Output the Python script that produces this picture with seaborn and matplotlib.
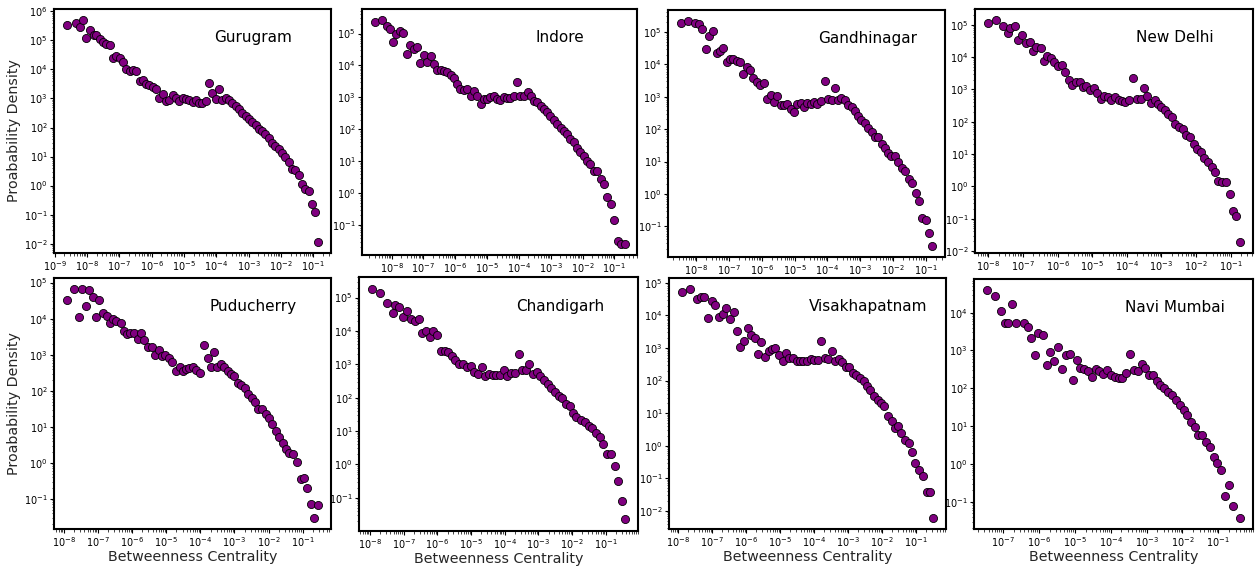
import numpy as np
import pandas as pd
import matplotlib
matplotlib.use("Agg")
import matplotlib.pyplot as plt
import seaborn as sns

# ---- data (log10 of betweenness centrality, log10 of probability density) ----
cities = ["Gurugram", "Indore", "Gandhinagar", "New Delhi",
          "Puducherry", "Chandigarh", "Visakhapatnam", "Navi Mumbai"]

gurugram_lx = [-8.63, -8.35, -8.22, -8.11, -8.02, -7.91, -7.79, -7.71, -7.61, -7.50, -7.40, -7.30, -7.19, -7.09, -6.99,
               -6.89, -6.78, -6.68, -6.58, -6.48, -6.37, -6.27, -6.17, -6.07, -5.96, -5.86, -5.76, -5.66, -5.55, -5.45,
               -5.35, -5.25, -5.14, -5.04, -4.94, -4.84, -4.73, -4.63, -4.53, -4.43, -4.32, -4.22, -4.12, -4.02, -3.91,
               -3.81, -3.71, -3.61, -3.50, -3.40, -3.30, -3.19, -3.09, -2.99, -2.89, -2.78, -2.68, -2.58, -2.48, -2.37,
               -2.27, -2.17, -2.07, -1.96, -1.86, -1.76, -1.66, -1.55, -1.45, -1.35, -1.25, -1.14, -1.04, -0.94, -0.84]
gurugram_ly = [5.53, 5.59, 5.47, 5.70, 5.10, 5.37, 5.18, 5.18, 5.05, 4.95, 4.86, 4.85, 4.38, 4.47, 4.41,
               4.27, 4.00, 3.93, 3.97, 3.96, 3.59, 3.65, 3.51, 3.46, 3.41, 3.32, 3.02, 3.15, 2.91, 2.95,
               3.12, 3.00, 2.93, 3.03, 2.97, 2.94, 2.89, 2.95, 2.86, 2.86, 2.93, 3.54, 3.18, 2.98, 3.34,
               2.95, 3.01, 2.96, 2.84, 2.74, 2.65, 2.49, 2.41, 2.31, 2.19, 2.08, 1.96, 1.88, 1.77, 1.64,
               1.48, 1.36, 1.25, 1.11, 0.97, 0.81, 0.58, 0.53, 0.35, 0.04, -0.13, -0.19, -0.62, -0.90, -1.94]

indore_lx = [-8.54, -8.30, -8.16, -8.04, -7.95, -7.85, -7.74, -7.64, -7.52, -7.42, -7.31, -7.19, -7.11, -6.98, -6.88,
             -6.77, -6.67, -6.56, -6.46, -6.36, -6.25, -6.15, -6.04, -5.94, -5.84, -5.73, -5.63, -5.52, -5.42, -5.32,
             -5.19, -5.11, -5.00, -4.90, -4.79, -4.69, -4.59, -4.48, -4.38, -4.27, -4.15, -4.05, -3.96, -3.84, -3.71,
             -3.61, -3.53, -3.42, -3.32, -3.21, -3.11, -3.01, -2.90, -2.80, -2.69, -2.59, -2.48, -2.38, -2.28, -2.17,
             -2.07, -1.96, -1.86, -1.76, -1.65, -1.53, -1.42, -1.32, -1.22, -1.11, -1.01, -0.88, -0.78, -0.68]
indore_ly = [5.36, 5.42, 5.25, 5.13, 4.75, 4.98, 5.08, 5.02, 4.37, 4.64, 4.53, 4.58, 4.09, 4.34, 4.11,
             4.29, 4.06, 3.86, 3.86, 3.84, 3.81, 3.71, 3.61, 3.43, 3.26, 3.24, 3.26, 3.04, 3.21, 3.05,
             2.78, 2.95, 2.95, 3.00, 3.05, 2.95, 2.91, 3.00, 2.97, 2.97, 3.04, 3.49, 3.03, 3.03, 3.18,
             3.03, 2.88, 2.86, 2.74, 2.63, 2.53, 2.42, 2.30, 2.17, 2.05, 1.94, 1.84, 1.69, 1.59, 1.42,
             1.29, 1.15, 1.02, 0.92, 0.69, 0.69, 0.45, 0.28, -0.13, -0.35, -0.84, -1.49, -1.59, -1.59]

gandhinagar_lx = [-8.47, -8.23, -8.03, -7.90, -7.81, -7.70, -7.59, -7.49, -7.37, -7.27, -7.17, -7.07, -6.96, -6.86,
                  -6.76, -6.66, -6.56, -6.46, -6.35, -6.25, -6.15, -6.05, -5.93, -5.83, -5.72, -5.62, -5.52, -5.42,
                  -5.32, -5.22, -5.11, -5.01, -4.91, -4.81, -4.71, -4.61, -4.50, -4.40, -4.30, -4.18, -4.08, -3.98,
                  -3.87, -3.77, -3.67, -3.57, -3.47, -3.37, -3.26, -3.16, -3.06, -2.96, -2.86, -2.76, -2.65, -2.55,
                  -2.45, -2.35, -2.25, -2.15, -2.05, -1.94, -1.84, -1.74, -1.62, -1.52, -1.42, -1.31, -1.21, -1.11,
                  -1.01, -0.91, -0.80]
gandhinagar_ly = [5.26, 5.33, 5.29, 5.23, 5.10, 4.48, 4.88, 5.03, 4.36, 4.41, 4.50, 4.07, 4.15, 4.17,
                  4.11, 4.07, 3.69, 3.92, 3.83, 3.59, 3.46, 3.36, 3.42, 2.92, 3.04, 2.85, 3.01, 2.74,
                  2.76, 2.78, 2.61, 2.53, 2.78, 2.80, 2.69, 2.82, 2.78, 2.84, 2.78, 2.86, 3.49, 2.94,
                  2.90, 3.28, 2.90, 2.96, 2.90, 2.74, 2.69, 2.57, 2.40, 2.28, 2.20, 2.05, 1.91, 1.76,
                  1.76, 1.55, 1.41, 1.26, 1.16, 1.16, 0.97, 0.79, 0.70, 0.47, 0.33, 0.02, -0.23, -0.73,
                  -0.82, -1.21, -1.60]

newdelhi_lx = [-8.02, -7.78, -7.57, -7.42, -7.36, -7.22, -7.13, -7.03, -6.92, -6.80, -6.71, -6.61, -6.49, -6.40,
               -6.30, -6.19, -6.09, -5.99, -5.88, -5.79, -5.67, -5.58, -5.48, -5.36, -5.26, -5.17, -5.05, -4.96,
               -4.85, -4.75, -4.65, -4.54, -4.45, -4.35, -4.23, -4.14, -4.04, -3.93, -3.83, -3.71, -3.60, -3.50,
               -3.41, -3.31, -3.20, -3.10, -3.00, -2.91, -2.81, -2.70, -2.60, -2.49, -2.39, -2.28, -2.18, -2.07,
               -1.97, -1.86, -1.76, -1.66, -1.55, -1.45, -1.36, -1.26, -1.14, -1.03, -0.93, -0.84, -0.72]
newdelhi_ly = [5.06, 5.14, 4.96, 4.75, 4.88, 4.96, 4.53, 4.67, 4.43, 4.47, 4.18, 4.30, 4.28, 3.89,
               4.04, 3.98, 3.85, 3.71, 3.75, 3.55, 3.28, 3.12, 3.24, 3.22, 3.06, 3.09, 2.99, 3.03,
               2.87, 2.70, 2.79, 2.75, 2.68, 2.75, 2.66, 2.64, 2.62, 2.68, 3.34, 2.70, 2.70, 3.03,
               2.79, 2.58, 2.66, 2.54, 2.44, 2.36, 2.23, 2.13, 1.93, 1.84, 1.76, 1.60, 1.52, 1.31,
               1.15, 1.07, 0.86, 0.74, 0.61, 0.45, 0.16, 0.14, 0.12, -0.23, -0.76, -0.92, -1.72]

puducherry_lx = [-7.92, -7.71, -7.56, -7.46, -7.36, -7.26, -7.15, -7.05, -6.97, -6.85, -6.75, -6.66, -6.56, -6.46,
                 -6.34, -6.24, -6.15, -6.05, -5.93, -5.83, -5.73, -5.64, -5.52, -5.42, -5.32, -5.22, -5.12, -5.03,
                 -4.93, -4.83, -4.71, -4.61, -4.52, -4.42, -4.32, -4.22, -4.12, -4.01, -3.89, -3.79, -3.69, -3.59,
                 -3.50, -3.40, -3.30, -3.20, -3.10, -3.00, -2.91, -2.81, -2.69, -2.59, -2.49, -2.40, -2.30, -2.18,
                 -2.08, -1.98, -1.89, -1.79, -1.69, -1.59, -1.49, -1.40, -1.28, -1.16, -1.06, -0.96, -0.87, -0.75,
                 -0.67, -0.54]
puducherry_ly = [4.51, 4.81, 4.04, 4.81, 4.35, 4.78, 4.59, 4.04, 4.52, 4.15, 4.06, 3.89, 3.98, 3.94,
                 3.89, 3.67, 3.57, 3.61, 3.61, 3.43, 3.61, 3.40, 3.20, 3.20, 3.00, 3.13, 2.96, 3.00,
                 2.91, 2.81, 2.54, 2.65, 2.56, 2.61, 2.63, 2.65, 2.57, 2.50, 3.26, 2.91, 2.65, 3.07,
                 2.65, 2.74, 2.67, 2.54, 2.46, 2.41, 2.22, 2.17, 2.07, 1.91, 1.81, 1.69, 1.50, 1.48,
                 1.35, 1.24, 1.09, 0.89, 0.72, 0.54, 0.37, 0.26, 0.24, 0.02, -0.44, -0.43, -0.69, -1.15,
                 -1.52, -1.17]

chandigarh_lx = [-7.95, -7.70, -7.49, -7.33, -7.25, -7.13, -7.01, -6.91, -6.79, -6.67, -6.56, -6.46, -6.34, -6.22,
                 -6.12, -6.00, -5.90, -5.78, -5.69, -5.57, -5.47, -5.37, -5.25, -5.13, -5.01, -4.91, -4.80, -4.68,
                 -4.58, -4.48, -4.36, -4.26, -4.14, -4.02, -3.92, -3.81, -3.69, -3.59, -3.49, -3.37, -3.27, -3.15,
                 -3.03, -2.94, -2.82, -2.72, -2.62, -2.52, -2.40, -2.30, -2.18, -2.07, -1.97, -1.87, -1.75, -1.63,
                 -1.51, -1.41, -1.29, -1.18, -1.08, -0.96, -0.84, -0.74, -0.64, -0.52, -0.42]
chandigarh_ly = [5.27, 5.15, 4.85, 4.55, 4.79, 4.73, 4.43, 4.59, 4.35, 4.29, 4.35, 3.95, 4.01, 3.83,
                 3.99, 3.87, 3.39, 3.41, 3.36, 3.24, 3.12, 3.00, 3.02, 2.92, 2.96, 2.78, 2.72, 2.92,
                 2.64, 2.72, 2.68, 2.68, 2.68, 2.82, 2.64, 2.74, 2.74, 3.32, 2.82, 2.82, 3.00, 2.72,
                 2.78, 2.64, 2.52, 2.40, 2.28, 2.18, 2.06, 1.98, 1.82, 1.74, 1.54, 1.42, 1.34, 1.26,
                 1.16, 1.10, 0.94, 0.82, 0.62, 0.31, 0.31, -0.06, -0.49, -1.10, -1.65]

visakhapatnam_lx = [-7.90, -7.66, -7.44, -7.34, -7.24, -7.12, -7.01, -6.92, -6.80, -6.68, -6.58, -6.49, -6.37, -6.27,
                    -6.17, -6.06, -5.96, -5.86, -5.74, -5.65, -5.55, -5.45, -5.33, -5.24, -5.14, -5.04, -4.92, -4.83,
                    -4.73, -4.61, -4.51, -4.42, -4.32, -4.20, -4.10, -3.99, -3.89, -3.79, -3.69, -3.58, -3.48, -3.38,
                    -3.26, -3.17, -3.07, -2.97, -2.85, -2.76, -2.64, -2.54, -2.44, -2.35, -2.23, -2.13, -2.03, -1.94,
                    -1.84, -1.72, -1.62, -1.53, -1.43, -1.33, -1.21, -1.12, -1.02, -0.90, -0.80, -0.69, -0.59, -0.49]
visakhapatnam_ly = [4.72, 4.80, 4.49, 4.56, 4.56, 3.93, 4.43, 4.33, 3.94, 4.03, 4.22, 3.90, 4.10, 3.53,
                    3.02, 3.22, 3.61, 3.39, 3.32, 2.81, 3.18, 2.71, 2.92, 2.96, 3.00, 2.77, 2.59, 2.85,
                    2.69, 2.69, 2.59, 2.59, 2.59, 2.61, 2.65, 2.63, 2.63, 3.22, 2.69, 2.65, 2.92, 2.61,
                    2.65, 2.57, 2.43, 2.41, 2.24, 2.16, 2.08, 2.00, 1.83, 1.71, 1.53, 1.40, 1.30, 1.22,
                    0.91, 0.75, 0.53, 0.59, 0.38, 0.16, 0.08, -0.19, -0.54, -0.76, -0.94, -1.41, -1.41, -2.21]

navimumbai_lx = [-7.45, -7.21, -7.06, -6.94, -6.85, -6.75, -6.63, -6.42, -6.31, -6.21, -6.10, -6.01, -5.89, -5.78,
                 -5.68, -5.57, -5.47, -5.36, -5.25, -5.14, -5.04, -4.94, -4.84, -4.73, -4.62, -4.51, -4.41, -4.31,
                 -4.20, -4.10, -3.99, -3.89, -3.78, -3.68, -3.56, -3.45, -3.36, -3.25, -3.14, -3.03, -2.93, -2.82,
                 -2.72, -2.62, -2.51, -2.40, -2.30, -2.19, -2.08, -1.97, -1.87, -1.76, -1.66, -1.56, -1.45, -1.35,
                 -1.24, -1.13, -1.03, -0.92, -0.81, -0.70, -0.59, -0.39]
navimumbai_ly = [4.59, 4.45, 4.05, 3.74, 3.74, 4.23, 3.74, 3.74, 3.62, 3.34, 2.88, 3.46, 3.41, 2.61,
                 2.97, 2.71, 3.08, 2.52, 2.89, 2.90, 2.21, 2.76, 2.55, 2.51, 2.45, 2.30, 2.51, 2.45,
                 2.38, 2.48, 2.34, 2.30, 2.28, 2.28, 2.41, 2.92, 2.48, 2.45, 2.65, 2.54, 2.36, 2.36,
                 2.19, 2.09, 2.02, 1.91, 1.82, 1.69, 1.57, 1.43, 1.30, 1.12, 0.99, 0.77, 0.77, 0.58,
                 0.45, 0.18, 0.02, -0.16, -0.86, -0.55, -1.11, -1.42]

series = {
    "Gurugram": (gurugram_lx, gurugram_ly),
    "Indore": (indore_lx, indore_ly),
    "Gandhinagar": (gandhinagar_lx, gandhinagar_ly),
    "New Delhi": (newdelhi_lx, newdelhi_ly),
    "Puducherry": (puducherry_lx, puducherry_ly),
    "Chandigarh": (chandigarh_lx, chandigarh_ly),
    "Visakhapatnam": (visakhapatnam_lx, visakhapatnam_ly),
    "Navi Mumbai": (navimumbai_lx, navimumbai_ly),
}

# ---- layout (pixel boxes of each panel: left, top, right, bottom) ----
W, H = 1257, 567
boxes = [(54, 9, 331, 253), (362, 9, 637, 255), (668, 10, 945, 257), (975, 9, 1253, 253),
         (54, 278, 331, 529), (359, 277, 638, 531), (669, 278, 946, 529), (974, 279, 1253, 529)]

sns.set_style("ticks")
plt.rcParams["font.family"] = ["DejaVu Sans"]

fig = plt.figure(figsize=(W / 100, H / 100), dpi=100)

for i, city in enumerate(cities):
    x0, y0, x1, y1 = boxes[i]
    ax = fig.add_axes([x0 / W, 1 - y1 / H, (x1 - x0) / W, (y1 - y0) / H])
    lx, ly = series[city]
    df = pd.DataFrame({"bc": 10 ** np.array(lx), "pd": 10 ** np.array(ly)})
    ax.set_xscale("log")
    ax.set_yscale("log")
    sns.scatterplot(data=df, x="bc", y="pd", ax=ax, color="#800080",
                    edgecolor="black", linewidth=0.6, s=34, zorder=3)
    ax.margins(0.05)
    ax.text(0.72, 0.885, city, transform=ax.transAxes, ha="center", va="center",
            fontsize=11, color="black")
    for sp in ax.spines.values():
        sp.set_linewidth(1.5)
        sp.set_color("black")
    ax.tick_params(axis="both", which="major", labelsize=7, length=3, width=0.8,
                   colors="black", pad=1.5)
    ax.tick_params(axis="both", which="minor", length=1.8, width=0.6)
    ax.set_xlabel("Betweenness Centrality" if i >= 4 else "", fontsize=10.3, labelpad=1)
    ax.set_ylabel("Proabability Density" if i % 4 == 0 else "", fontsize=10.3, labelpad=2)

fig.savefig("out.png", dpi=100)
